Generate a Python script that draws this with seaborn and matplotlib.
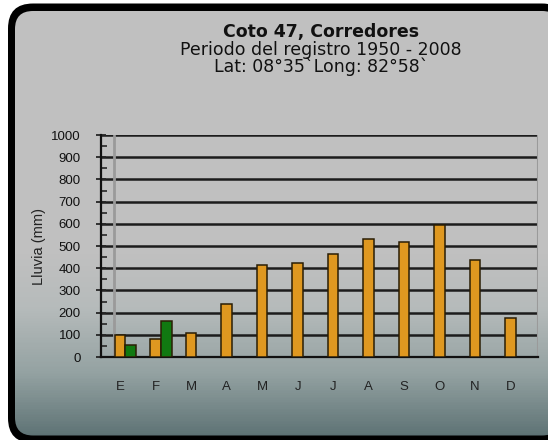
import numpy as np
import pandas as pd
import seaborn as sns
import matplotlib.pyplot as plt
from matplotlib.patches import FancyBboxPatch, Polygon
from matplotlib.colors import LinearSegmentedColormap
from matplotlib.ticker import MultipleLocator, FixedLocator

# datos (mm)
meses = ['E', 'F', 'M', 'A', 'M', 'J', 'J', 'A', 'S', 'O', 'N', 'D']
lluvia_a = [100, 80, 110, 240, 415, 425, 465, 530, 520, 595, 435, 175]
lluvia_b = [55, 160, np.nan, np.nan, np.nan, np.nan, np.nan, np.nan, np.nan, np.nan, np.nan, np.nan]
series = ['a', 'b']

df = pd.DataFrame({
    'mes': list(range(12)) * 2,
    'lluvia': lluvia_a + lluvia_b,
    'serie': [series[0]] * 12 + [series[1]] * 12,
})

sns.set_style('white')
plt.rcParams['font.family'] = ['Liberation Sans', 'DejaVu Sans']

fig = plt.figure(figsize=(5.48, 4.40), dpi=100)


def caja_redonda(x, y, w, h, r, **kw):
    # caja redondeada como poligono (sin curvas) para evitar artefactos de recorte
    p = FancyBboxPatch((x, y), w, h, boxstyle=f'round,pad=0,rounding_size={r}')
    return Polygon(p.get_path().to_polygons()[0], closed=True, **kw)


# fondo: marco negro + degradado recortado por dentro (pixeles, y hacia arriba)
bg = fig.add_axes([0, 0, 1, 1])
bg.axis('off')
exterior = caja_redonda(8, -3, 559, 439.5, 25, facecolor='black', edgecolor='none', zorder=1)
bg.add_patch(exterior)
interior = caja_redonda(15, 4.5, 545, 424.5, 18, facecolor='none', edgecolor='none', zorder=1)
bg.add_patch(interior)
cmap = LinearSegmentedColormap.from_list('fondo', [
    (0.0, '#c1c1c1'), (0.58, '#c0c0c0'), (0.70, '#b6bbbb'),
    (0.85, '#94a2a2'), (1.0, '#5c7173')])
grad = np.linspace(0, 1, 440).reshape(-1, 1)
im = bg.imshow(grad, cmap=cmap, aspect='auto', extent=[0, 548, 0, 440],
               origin='upper', zorder=2)
im.set_clip_path(interior)
bg.set_xlim(0, 548)
bg.set_ylim(0, 440)

# titulo
fig.text(321 / 548, 1 - 32 / 440, 'Coto 47, Corredores', ha='center', va='center',
         fontsize=12.5, fontweight='bold', family='DejaVu Sans', color='#111111')
fig.text(321 / 548, 1 - 50 / 440, 'Periodo del registro 1950 - 2008', ha='center', va='center',
         fontsize=12.5, family='DejaVu Sans', color='#111111')
fig.text(321 / 548, 1 - 67 / 440, 'Lat: 08°35`Long: 82°58`', ha='center', va='center',
         fontsize=12.5, family='DejaVu Sans', color='#111111')

# grafico de barras
ax = fig.add_axes([101 / 548, 83 / 440, 437 / 548, 222 / 440])
ax.patch.set_alpha(0)
sns.barplot(data=df, x='mes', y='lluvia', hue='serie', hue_order=series,
            palette=['#ffa000', '#008a00'], width=0.6, legend=False,
            edgecolor='#2a1e05', linewidth=1.1, ax=ax, zorder=3)

ax.set_ylim(0, 1000)
ax.set_xlim(-0.69, 11.62)
ax.yaxis.set_major_locator(MultipleLocator(100))
ax.yaxis.set_minor_locator(MultipleLocator(50))
ax.yaxis.grid(True, color='#1c1c1c', lw=1.8, zorder=1)
ax.set_axisbelow(True)
ax.axvline(-0.33, color='#9a9a9a', lw=2, zorder=1)

ax.xaxis.set_major_locator(FixedLocator([i - 0.15 for i in range(12)]))
ax.xaxis.set_minor_locator(FixedLocator([i + 0.35 for i in range(12)]))
ax.set_xticklabels(meses)
ax.tick_params(axis='x', which='major', length=0, pad=17, labelsize=9.5, labelcolor='#222222')
ax.tick_params(axis='x', which='minor', length=4, width=1.3, direction='out', color='#111111')
ax.tick_params(axis='y', which='major', length=7, width=1.3, direction='inout',
               labelsize=9.5, labelcolor='#111111', pad=11, left=True)
ax.tick_params(axis='y', which='minor', length=4, width=1.2, direction='in', left=True)

ax.set_xlabel('')
ax.set_ylabel('Lluvia (mm)', fontsize=10.5, color='#222222', labelpad=4)

for s in ['top', 'right']:
    ax.spines[s].set_visible(False)
ax.spines['left'].set_color('#111111')
ax.spines['left'].set_linewidth(1.6)
ax.spines['bottom'].set_color('#111111')
ax.spines['bottom'].set_linewidth(1.6)
ax.axvline(11.62, color='#9a9a9a', lw=1.5, zorder=1)

fig.savefig('out.png', dpi=100)
